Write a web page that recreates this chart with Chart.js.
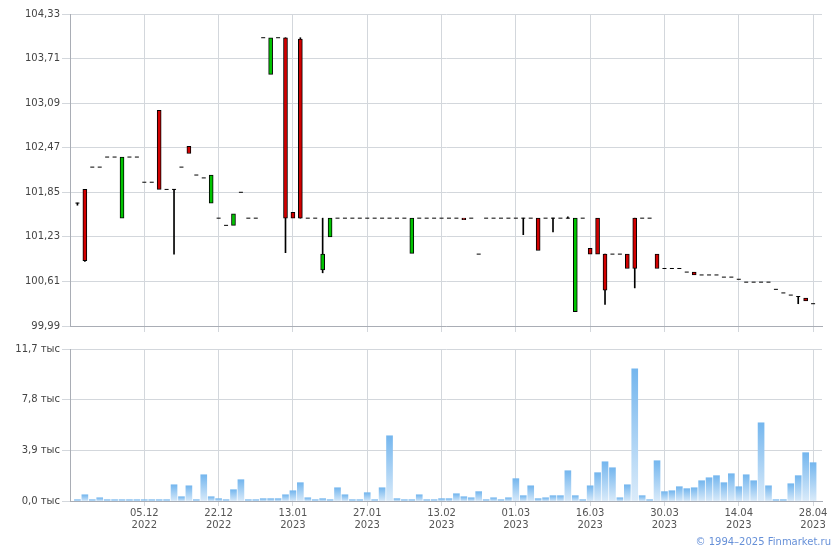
<!DOCTYPE html>
<html lang="ru">
<head>
<meta charset="utf-8">
<title>Котировки и объём торгов</title>
<script src="https://cdn.jsdelivr.net/npm/chart.js@4.4.1/dist/chart.umd.min.js"></script>
<style>
  html, body { margin: 0; padding: 0; background: #fff; }
  #wrap { position: relative; width: 840px; height: 550px; overflow: hidden; }
  #priceChart { position: absolute; left: 0; top: 0; }
  #volumeChart { position: absolute; left: 0; top: 340px; }
  #copyright {
    position: absolute; right: 9px; top: 536px;
    font: 10px "DejaVu Sans", sans-serif; line-height: 12px; color: #6690d8;
  }
</style>
</head>
<body>
<div id="wrap">
  <canvas id="priceChart" width="840" height="340"></canvas>
  <canvas id="volumeChart" width="840" height="210"></canvas>
  <div id="copyright">© 1994–2025 Finmarket.ru</div>
</div>
<script>
// Repères de l'axe X (une séance sur dix)
const X_TICK_INDEX = [9, 19, 29, 39, 49, 59, 69, 79, 89, 99];
const X_DAYS = ["05.12", "22.12", "13.01", "27.01", "13.02", "01.03", "16.03", "30.03", "14.04", "28.04"];
const X_YEARS = ["2022", "2022", "2023", "2023", "2023", "2023", "2023", "2023", "2023", "2023"];

// Graduations des axes Y
const PRICE_TICKS = [99.99, 100.61, 101.23, 101.85, 102.47, 103.09, 103.71, 104.33];
const VOLUME_TICKS = [0, 3.9, 7.8, 11.7];

// Cours par séance (ouverture, clôture, plus haut, plus bas)
const OPEN = [
  101.70, 101.89, 102.20, 102.20, 102.34, 102.34, 101.49, 102.34, 102.34, 101.99,
  101.99, 102.99, 101.89, 101.89, 102.20, 102.49, 102.09, 102.05, 101.70, 101.49,
  101.39, 101.39, 101.85, 101.49, 101.49, 104.00, 103.49, 104.00, 104.00, 101.57,
  103.98, 101.49, 101.49, 100.77, 101.23, 101.49, 101.49, 101.49, 101.49, 101.49,
  101.49, 101.49, 101.49, 101.49, 101.49, 101.00, 101.49, 101.49, 101.49, 101.49,
  101.49, 101.49, 101.49, 101.49, 100.99, 101.49, 101.49, 101.49, 101.49, 101.49,
  101.49, 101.49, 101.49, 101.49, 101.49, 101.49, 101.49, 100.19, 101.49, 101.07,
  101.49, 100.99, 100.99, 100.99, 100.99, 101.49, 101.49, 101.49, 100.99, 100.79,
  100.79, 100.79, 100.74, 100.74, 100.70, 100.70, 100.70, 100.67, 100.67, 100.64,
  100.60, 100.60, 100.60, 100.60, 100.50, 100.45, 100.42, 100.40, 100.38, 100.30,
];
const CLOSE = [
  101.70, 100.90, 102.20, 102.20, 102.34, 102.34, 102.34, 102.34, 102.34, 101.99,
  101.99, 101.89, 101.89, 101.89, 102.20, 102.39, 102.09, 102.05, 102.09, 101.49,
  101.39, 101.55, 101.85, 101.49, 101.49, 104.00, 104.00, 104.00, 101.49, 101.49,
  101.49, 101.49, 101.49, 100.99, 101.49, 101.49, 101.49, 101.49, 101.49, 101.49,
  101.49, 101.49, 101.49, 101.49, 101.49, 101.49, 101.49, 101.49, 101.49, 101.49,
  101.49, 101.49, 101.47, 101.49, 100.99, 101.49, 101.49, 101.49, 101.49, 101.49,
  101.49, 101.49, 101.04, 101.49, 101.49, 101.49, 101.49, 101.49, 101.49, 100.99,
  100.99, 100.49, 100.99, 100.99, 100.79, 100.79, 101.49, 101.49, 100.79, 100.79,
  100.79, 100.79, 100.74, 100.70, 100.70, 100.70, 100.70, 100.67, 100.67, 100.64,
  100.60, 100.60, 100.60, 100.60, 100.50, 100.45, 100.42, 100.40, 100.34, 100.30,
];
const HIGH = [
  101.70, 101.89, 102.20, 102.20, 102.34, 102.34, 102.34, 102.34, 102.34, 101.99,
  101.99, 102.99, 101.89, 101.89, 102.20, 102.49, 102.09, 102.05, 102.09, 101.49,
  101.39, 101.55, 101.85, 101.49, 101.49, 104.00, 104.00, 104.00, 104.00, 101.57,
  104.00, 101.49, 101.49, 101.49, 101.49, 101.49, 101.49, 101.49, 101.49, 101.49,
  101.49, 101.49, 101.49, 101.49, 101.49, 101.49, 101.49, 101.49, 101.49, 101.49,
  101.49, 101.49, 101.49, 101.49, 100.99, 101.49, 101.49, 101.49, 101.49, 101.49,
  101.49, 101.49, 101.49, 101.49, 101.49, 101.49, 101.51, 101.49, 101.49, 101.07,
  101.49, 100.99, 100.99, 100.99, 100.99, 101.49, 101.49, 101.49, 100.99, 100.79,
  100.79, 100.79, 100.74, 100.74, 100.70, 100.70, 100.70, 100.67, 100.67, 100.64,
  100.60, 100.60, 100.60, 100.60, 100.50, 100.45, 100.42, 100.40, 100.38, 100.30,
];
const LOW = [
  101.67, 100.89, 102.20, 102.20, 102.34, 102.34, 101.49, 102.34, 102.34, 101.99,
  101.99, 101.89, 101.89, 100.99, 102.20, 102.39, 102.09, 102.05, 101.70, 101.49,
  101.39, 101.39, 101.85, 101.49, 101.49, 104.00, 103.49, 104.00, 101.01, 101.49,
  101.49, 101.49, 101.49, 100.73, 101.23, 101.49, 101.49, 101.49, 101.49, 101.49,
  101.49, 101.49, 101.49, 101.49, 101.49, 101.00, 101.49, 101.49, 101.49, 101.49,
  101.49, 101.49, 101.47, 101.49, 100.99, 101.49, 101.49, 101.49, 101.49, 101.49,
  101.26, 101.49, 101.04, 101.49, 101.30, 101.49, 101.49, 100.19, 101.49, 100.99,
  100.99, 100.29, 100.99, 100.99, 100.79, 100.52, 101.49, 101.49, 100.79, 100.79,
  100.79, 100.79, 100.74, 100.70, 100.70, 100.70, 100.70, 100.67, 100.67, 100.64,
  100.60, 100.60, 100.60, 100.60, 100.50, 100.45, 100.42, 100.30, 100.34, 100.30,
];

// Volume par séance, en milliers
const VOLUME = [
  0.10, 0.48, 0.10, 0.25, 0.10, 0.10, 0.10, 0.10, 0.10, 0.10,
  0.10, 0.10, 0.10, 1.25, 0.33, 1.17, 0.10, 2.02, 0.33, 0.18,
  0.10, 0.87, 1.64, 0.10, 0.10, 0.18, 0.18, 0.18, 0.48, 0.79,
  1.41, 0.25, 0.10, 0.18, 0.10, 1.02, 0.48, 0.10, 0.10, 0.64,
  0.10, 1.02, 5.02, 0.18, 0.10, 0.10, 0.48, 0.10, 0.10, 0.18,
  0.18, 0.56, 0.33, 0.25, 0.72, 0.10, 0.25, 0.10, 0.25, 1.72,
  0.41, 1.17, 0.18, 0.25, 0.41, 0.41, 2.33, 0.41, 0.10, 1.17,
  2.18, 3.02, 2.56, 0.25, 1.25, 10.18, 0.41, 0.10, 3.10, 0.72,
  0.79, 1.10, 0.95, 1.02, 1.56, 1.79, 1.95, 1.41, 2.10, 1.10,
  2.02, 1.56, 6.02, 1.17, 0.10, 0.10, 1.33, 1.95, 3.72, 2.95,
];

// Couleurs
const GRID = "#d3d7dc";
const AXIS = "#a9adb5";
const UP = "#00c400";
const DOWN = "#d20000";

Chart.defaults.font.family = '"DejaVu Sans", sans-serif';
Chart.defaults.font.size = 10;
Chart.defaults.color = "#444";

// Construction des séries de bougies
const bodies = [];
const dojis = [];
const wicks = [];
OPEN.forEach((open, i) => {
  const close = CLOSE[i];
  if (open === close) {
    dojis.push({ x: i, y: open });
  } else {
    bodies.push({ x: i, y: [open, close] });
  }
  if (HIGH[i] > Math.max(open, close) || LOW[i] < Math.min(open, close)) {
    wicks.push({ x: i, y: [LOW[i], HIGH[i]] });
  }
});

// Axe X commun aux deux graphiques
function xAxis(showLabels, height, tickLength) {
  return {
    type: "linear",
    min: -1,
    max: 100.2,
    offset: false,
    afterBuildTicks: (scale) => {
      scale.ticks = X_TICK_INDEX.map((v) => ({ value: v }));
    },
    afterFit: (scale) => {
      scale.height = height;
    },
    ticks: {
      autoSkip: false,
      maxRotation: 0,
      padding: 1,
      color: "#555",
      callback: (value, index) => (showLabels ? [X_DAYS[index], X_YEARS[index]] : ""),
    },
    grid: { color: GRID, tickLength: tickLength, offset: false },
    border: { color: AXIS },
  };
}

// Axe Y avec graduations imposées
function yAxis(min, max, tickValues, format) {
  return {
    min: min,
    max: max,
    afterBuildTicks: (scale) => {
      scale.ticks = tickValues.map((v) => ({ value: v }));
    },
    afterFit: (scale) => {
      scale.width = 70;
    },
    ticks: { padding: 2, callback: format },
    grid: { color: GRID, tickLength: 8 },
    border: { color: AXIS },
  };
}

// Dégradé vertical des barres de volume
function volumeGradient(context) {
  const chart = context.chart;
  if (!chart.chartArea || !context.parsed) return "#a9d1f5";
  const yScale = chart.scales.y;
  const top = yScale.getPixelForValue(context.parsed.y);
  const bottom = yScale.getPixelForValue(0);
  const gradient = chart.ctx.createLinearGradient(0, top, 0, bottom + 1);
  gradient.addColorStop(0, "#74b6ee");
  gradient.addColorStop(1, "#dcecfa");
  return gradient;
}

// Graphique des cours
new Chart(document.getElementById("priceChart"), {
  type: "bar",
  data: {
    datasets: [
      {
        type: "bar",
        data: bodies,
        order: 1,
        grouped: false,
        barThickness: 4,
        borderWidth: 1,
        borderColor: "#000",
        borderSkipped: false,
        backgroundColor: (ctx) =>
          ctx.raw && ctx.raw.y[1] < ctx.raw.y[0] ? DOWN : UP,
      },
      {
        type: "line",
        data: dojis,
        order: 2,
        showLine: false,
        pointStyle: "line",
        pointRadius: 2,
        borderColor: "#000",
        borderWidth: 1,
      },
      {
        type: "bar",
        data: wicks,
        order: 3,
        grouped: false,
        barThickness: 1,
        backgroundColor: "#000",
      },
    ],
  },
  options: {
    responsive: false,
    animation: false,
    events: [],
    layout: { padding: { top: 14, right: 18, left: 0, bottom: 0 } },
    plugins: { legend: { display: false }, tooltip: { enabled: false } },
    scales: {
      x: xAxis(false, 14, 6),
      y: yAxis(99.99, 104.33, PRICE_TICKS, (v) => v.toFixed(2).replace(".", ",")),
    },
  },
});

// Graphique des volumes
new Chart(document.getElementById("volumeChart"), {
  type: "bar",
  data: {
    datasets: [
      {
        data: VOLUME.map((v, i) => ({ x: i, y: v })),
        barThickness: 6,
        backgroundColor: volumeGradient,
      },
    ],
  },
  options: {
    responsive: false,
    animation: false,
    events: [],
    layout: { padding: { top: 9, right: 18, left: 0, bottom: 0 } },
    plugins: { legend: { display: false }, tooltip: { enabled: false } },
    scales: {
      x: xAxis(true, 49, 5),
      y: yAxis(0, 11.7, VOLUME_TICKS, (v) => v.toFixed(1).replace(".", ",") + " тыс"),
    },
  },
});
</script>
</body>
</html>
